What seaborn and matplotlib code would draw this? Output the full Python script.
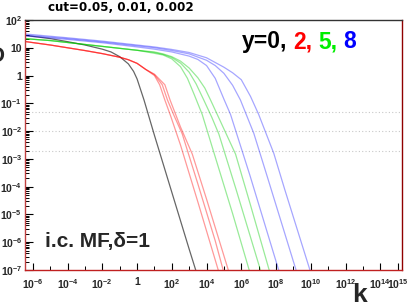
import numpy as np
import pandas as pd
import matplotlib
matplotlib.use("Agg")
import matplotlib.pyplot as plt
import seaborn as sns
from matplotlib.ticker import FixedLocator, NullFormatter

# ---- data (log10 k, log10 D) ----
black_logk = [-6.5, -5, -4, -3, -2, -1.5, -1, -0.5, -0.2, 0, 0.2, 0.4, 1, 2, 3, 3.45]
black_logD = [1.45, 1.33, 1.22, 1.10, 0.95, 0.85, 0.68, 0.42, 0.15, -0.12, -0.5, -0.88, -2.15, -4.2, -6.25, -7.15]

red_common_logk = [-6.5, -5, -4, -3, -2, -1, -0.5, 0, 0.5]
red_common_logD = [1.23, 1.10, 1.00, 0.90, 0.79, 0.66, 0.57, 0.44, 0.22]
red_a_logk = [1.0, 1.3, 1.6, 1.93, 2.5, 3.5, 4.72]
red_a_logD = [0.0, -0.33, -0.88, -1.45, -2.5, -4.55, -7.1]
red_b_logk = [1.0, 1.45, 1.75, 2.1, 2.6, 3.5, 4.5, 5.0]
red_b_logD = [0.03, -0.33, -0.88, -1.4, -2.1, -3.9, -5.95, -7.1]
red_c_logk = [1.0, 1.6, 1.9, 2.5, 3.18, 4.0, 5.3]
red_c_logD = [0.05, -0.33, -0.88, -1.85, -2.83, -4.45, -7.1]

green_common_logk = [-6.5, -5, -4, -3, -2, -1, 0]
green_common_logD = [1.33, 1.26, 1.19, 1.12, 1.05, 0.98, 0.91]
green_a_logk = [1.0, 1.5, 2.0, 2.5, 2.9, 3.3, 3.75, 4.5, 5.5, 6.5]
green_a_logD = [0.80, 0.74, 0.60, 0.32, -0.10, -0.70, -1.40, -2.93, -4.97, -7.1]
green_b_logk = [1.0, 1.5, 2.0, 2.5, 3.0, 3.4, 3.84, 4.3, 4.71, 5.7, 7.15]
green_b_logD = [0.83, 0.76, 0.65, 0.45, 0.12, -0.30, -0.88, -1.50, -2.11, -4.10, -7.1]
green_c_logk = [1.0, 1.5, 2.0, 2.5, 3.0, 3.5, 3.9, 4.23, 4.8, 5.67, 6.5, 7.65]
green_c_logD = [0.85, 0.78, 0.68, 0.52, 0.27, -0.08, -0.45, -0.88, -1.65, -2.83, -4.6, -7.1]

blue_a_logk = [-6.5, -4, -2, 0, 1, 2, 3, 3.5, 4, 4.5, 5.0, 5.38, 6.5, 8.2]
blue_a_logD = [1.43, 1.30, 1.18, 1.03, 0.95, 0.85, 0.70, 0.58, 0.36, -0.10, -0.85, -1.40, -3.60, -7.1]
blue_b_logk = [-6.5, -4, -2, 0, 1, 2, 3, 4, 4.5, 5, 5.5, 5.95, 6.72, 7.5, 8.83, 9.25]
blue_b_logD = [1.46, 1.33, 1.21, 1.07, 1.00, 0.90, 0.78, 0.55, 0.36, 0.08, -0.35, -0.88, -2.08, -3.65, -6.35, -7.2]
blue_c_logk = [-6.5, -4, -2, 0, 1, 2, 3, 4, 5, 5.5, 6.0, 6.53, 7.0, 7.87, 8.5, 9.5, 10.0]
blue_c_logD = [1.50, 1.36, 1.24, 1.10, 1.03, 0.94, 0.83, 0.64, 0.30, 0.10, -0.15, -0.75, -1.40, -2.80, -4.10, -6.10, -7.1]

cut_values = [0.05, 0.01, 0.002]
y_tick_exps = [2, 1, 0, -1, -2, -3, -4, -5, -6, -7]
y_tick_labels = ["$10^{2}$", "10", "1", "$10^{-1}$", "$10^{-2}$", "$10^{-3}$",
                 "$10^{-4}$", "$10^{-5}$", "$10^{-6}$", "$10^{-7}$"]
x_tick_exps = [-6, -4, -2, 0, 2, 4, 6, 8, 10, 12, 14, 15]
x_tick_labels = ["$10^{-6}$", "$10^{-4}$", "$10^{-2}$", "1", "$10^{2}$", "$10^{4}$",
                 "$10^{6}$", "$10^{8}$", "$10^{10}$", "$10^{12}$", "$10^{14}$", "$10^{15}$"]

# ---- style ----
sns.set_theme(style="white")
plt.rcParams["font.family"] = ["Liberation Sans", "DejaVu Sans"]
plt.rcParams["mathtext.fontset"] = "custom"
plt.rcParams["mathtext.rm"] = "Liberation Sans:bold"
plt.rcParams["mathtext.it"] = "Liberation Sans:bold"
plt.rcParams["mathtext.bf"] = "Liberation Sans:bold"
plt.rcParams["mathtext.default"] = "rm"

W, H = 409, 307
fig = plt.figure(figsize=(W / 100, H / 100), dpi=100)
fig.patch.set_facecolor("white")
ax = fig.add_axes([25 / W, 1 - 270 / H, (402 - 25) / W, (270 - 20) / H])
ax.set_facecolor("white")


def curve(common_k, common_d, k, d):
    return list(common_k) + list(k), list(common_d) + list(d)


curves = []
curves.append((black_logk, black_logD, "black", 0.6))
for k, d in [(red_a_logk, red_a_logD), (red_b_logk, red_b_logD), (red_c_logk, red_c_logD)]:
    kk, dd = curve(red_common_logk, red_common_logD, k, d)
    curves.append((kk, dd, "#ff0000", 0.4))
for k, d in [(green_a_logk, green_a_logD), (green_b_logk, green_b_logD), (green_c_logk, green_c_logD)]:
    kk, dd = curve(green_common_logk, green_common_logD, k, d)
    curves.append((kk, dd, "#00cc00", 0.4))
for k, d in [(blue_a_logk, blue_a_logD), (blue_b_logk, blue_b_logD), (blue_c_logk, blue_c_logD)]:
    curves.append((k, d, "#0000ff", 0.35))

for kk, dd, col, al in curves:
    df = pd.DataFrame({"k": np.power(10.0, kk), "D": np.power(10.0, dd)})
    sns.lineplot(data=df, x="k", y="D", color=col, alpha=al, lw=0.9,
                 sort=False, estimator=None, ax=ax, legend=False)

for c in cut_values:
    ax.axhline(c, color="#c8c8c8", ls=(0, (1, 2)), lw=0.8, zorder=0)

ax.set_xscale("log")
ax.set_yscale("log")
ax.set_xlim(10 ** -6.45, 10 ** 15.25)
ax.set_ylim(1e-7, 1e2)
ax.set_xlabel("")
ax.set_ylabel("")

ax.yaxis.set_major_locator(FixedLocator([10.0 ** e for e in y_tick_exps]))
ax.set_yticklabels(y_tick_labels)
ymin = [m * 10.0 ** e for e in range(-7, 2) for m in range(2, 10)]
ax.yaxis.set_minor_locator(FixedLocator(ymin))
ax.yaxis.set_minor_formatter(NullFormatter())

ax.xaxis.set_major_locator(FixedLocator([10.0 ** e for e in x_tick_exps]))
ax.set_xticklabels(x_tick_labels)
ax.xaxis.set_minor_locator(FixedLocator([10.0 ** e for e in range(-5, 15, 2)]))
ax.xaxis.set_minor_formatter(NullFormatter())

ax.tick_params(axis="y", which="major", direction="in", length=5.8, width=0.8,
               color="black", labelsize=7.5, pad=2, left=True, right=False)
ax.tick_params(axis="y", which="minor", direction="in", length=3.0, width=0.7,
               color="black", left=True, right=False)
ax.tick_params(axis="x", which="major", direction="in", length=5.0, width=0.8,
               color="black", labelsize=7.5, pad=5, bottom=True, top=False)
ax.tick_params(axis="x", which="minor", direction="in", length=2.9, width=0.7,
               color="black", bottom=True, top=False)
for lab in ax.get_xticklabels() + ax.get_yticklabels():
    lab.set_fontweight("bold")

ax.spines["left"].set_color("#c04040")
ax.spines["bottom"].set_color("#c02020")
ax.spines["right"].set_color("#900000")
ax.spines["top"].set_color("#333333")
for s in ax.spines.values():
    s.set_linewidth(1.0)
    s.set_visible(True)


def px(x, y):
    return x / W, 1 - y / H


# title
fig.text(*px(48, 11), "cut=0.05, 0.01, 0.002", fontsize=8.6, fontweight="bold",
         family="DejaVu Sans", ha="left", va="baseline", color="black")

# y-axis label (mostly cut off at left edge, as in the reference)
fig.text(*px(5, 62), "D", fontsize=16, fontweight="bold", ha="right", va="baseline")

# x-axis label
fig.text(*px(352, 302), "k", fontsize=19, fontweight="bold", ha="left", va="baseline")

# annotation bottom-left
fig.text(*px(45, 247), "i.c. MF,\u03b4=1", fontsize=15, fontweight="bold",
         ha="left", va="baseline")

# multi-coloured legend text
fig.canvas.draw()
renderer = fig.canvas.get_renderer()
pieces = [("y=0,", "black"), ("2,", "#ff0000"), ("5,", "#00ee00"), ("8", "#0000ff")]
xpos = 242
for s, c in pieces:
    t = fig.text(*px(xpos, 48), s, fontsize=16.5, fontweight="bold", color=c,
                 ha="left", va="baseline")
    bb = t.get_window_extent(renderer=renderer)
    xpos = bb.x1 + 6

fig.savefig("out.png", dpi=100)
